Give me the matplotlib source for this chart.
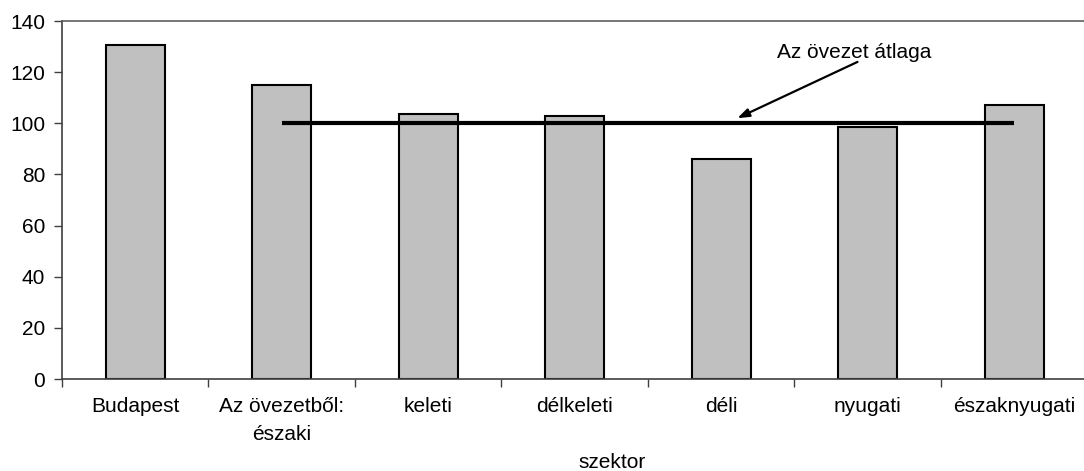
import numpy as np
import matplotlib.pyplot as plt

plt.rcParams['font.family'] = ['Liberation Sans', 'DejaVu Sans']

categories = ['Budapest', 'Az övezetből:\nészaki', 'keleti', 'délkeleti', 'déli', 'nyugati', 'északnyugati']
values = [130.5, 115, 103.5, 103, 86, 98.5, 107]
average = 100
avg_from, avg_to = 1, 6  # line runs from category 1 to category 6

fig = plt.figure(figsize=(10.84, 4.71), dpi=100)
ax = fig.add_axes([0.0572, 0.1953, 0.946, 0.7601])

x = np.arange(len(categories))
ax.bar(x, values, width=0.4, color='#c0c0c0', edgecolor='black', linewidth=1.5, zorder=2)

# average line
ax.plot([x[avg_from], x[avg_to]], [average, average], color='black', linewidth=3, solid_capstyle='butt', zorder=3)

ax.set_xlim(-0.5, len(categories) - 0.5)
ax.set_ylim(0, 140)
ax.set_yticks(np.arange(0, 141, 20))

fs = 15
ax.set_xticks(x)
ax.set_xticklabels(categories, fontsize=fs, linespacing=1.6)
ax.set_xticks(np.arange(-0.5, len(categories), 1), minor=True)
ax.tick_params(axis='x', which='major', length=0, pad=13)
ax.tick_params(axis='x', which='minor', length=6, width=1, color='#404040', direction='out')
ax.tick_params(axis='y', length=6, width=1, color='#404040', direction='out', labelsize=fs, pad=6)

for side in ['left', 'bottom']:
    ax.spines[side].set_color('#404040')
    ax.spines[side].set_linewidth(1.2)
ax.spines['top'].set_color('#606060')
ax.spines['top'].set_linewidth(1.2)
ax.spines['right'].set_visible(False)

ax.set_xlabel('szektor', fontsize=fs)
ax.xaxis.set_label_coords(0.536, -0.232)
ax.xaxis.label.set_va('center')

# annotation for the average
ax.text(4.91, 127.5, 'Az övezet átlaga', fontsize=fs, ha='center', va='center')
ax.annotate('', xy=(4.11, 102), xytext=(4.93, 124),
            arrowprops=dict(arrowstyle='-|>,head_length=0.7,head_width=0.25', color='black',
                            lw=1.6, shrinkA=0, shrinkB=0))

fig.savefig('out.png', dpi=100)
